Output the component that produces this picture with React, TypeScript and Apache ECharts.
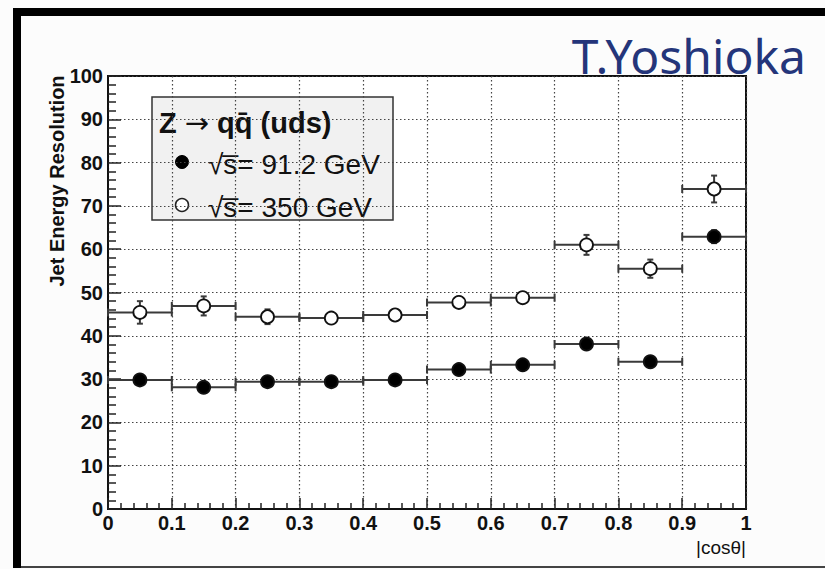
import React, { useEffect, useRef } from "react";
import * as echarts from "echarts";

// |cos(theta)| bins: centres and half width
const binCenters = [0.05, 0.15, 0.25, 0.35, 0.45, 0.55, 0.65, 0.75, 0.85, 0.95];
const binHalfWidth = 0.05;

// Jet energy resolution at sqrt(s) = 91.2 GeV
const res912 = [29.8, 28.1, 29.4, 29.4, 29.8, 32.2, 33.3, 38.1, 34.0, 62.9];
const err912 = [0.6, 0.6, 0.6, 0.6, 0.6, 0.7, 0.7, 0.8, 0.8, 1.5];

// Jet energy resolution at sqrt(s) = 350 GeV
const res350 = [45.4, 46.9, 44.4, 44.1, 44.8, 47.7, 48.8, 61.0, 55.5, 73.9];
const err350 = [2.6, 2.2, 1.7, 1.1, 0.9, 1.3, 1.3, 2.3, 2.1, 3.1];

const xTicks = { min: 0, max: 1, interval: 0.1 };
const yTicks = { min: 0, max: 100, interval: 10 };

const FONT = "'Liberation Sans', Arial, sans-serif";
const BAR_COLOR = "#3a3a3a";

function errorBars(values: number[], errors: number[]) {
  return binCenters.map((x, i) => [x, values[i], errors[i]]);
}

// Horizontal bin-width bar, vertical error bar and the marker on top
function makeRenderer(markerFill: string) {
  return (params: any, api: any) => {
    const x = api.value(0);
    const y = api.value(1);
    const e = api.value(2);
    const left = api.coord([x - binHalfWidth, y]);
    const right = api.coord([x + binHalfWidth, y]);
    const top = api.coord([x, y + e]);
    const bottom = api.coord([x, y - e]);
    const center = api.coord([x, y]);
    const style = { stroke: BAR_COLOR, lineWidth: 2, fill: "none" };
    const cap = 4;
    return {
      type: "group",
      children: [
        { type: "line", shape: { x1: left[0], y1: left[1], x2: right[0], y2: right[1] }, style },
        { type: "line", shape: { x1: left[0], y1: left[1] - cap, x2: left[0], y2: left[1] + cap }, style },
        { type: "line", shape: { x1: right[0], y1: right[1] - cap, x2: right[0], y2: right[1] + cap }, style },
        { type: "line", shape: { x1: top[0], y1: top[1], x2: bottom[0], y2: bottom[1] }, style },
        { type: "line", shape: { x1: top[0] - 3, y1: top[1], x2: top[0] + 3, y2: top[1] }, style },
        { type: "line", shape: { x1: bottom[0] - 3, y1: bottom[1], x2: bottom[0] + 3, y2: bottom[1] }, style },
        {
          type: "circle",
          shape: { cx: center[0], cy: center[1], r: 6.5 },
          style: { fill: markerFill, stroke: "#111", lineWidth: 1.8 },
        },
      ],
    };
  };
}

export default function App() {
  const ref = useRef<HTMLDivElement>(null);

  useEffect(() => {
    if (!ref.current) return;
    const chart = echarts.init(ref.current, undefined, { renderer: "svg" });

    const option: any = {
      animation: false,
      backgroundColor: "#fcfcfc",
      grid: {
        left: 108,
        top: 76,
        right: 79,
        bottom: 60,
        show: true,
        backgroundColor: "#ffffff",
        borderColor: "#111111",
        borderWidth: 2,
      },
      xAxis: {
        type: "value",
        ...xTicks,
        axisLine: { show: true, onZero: false, lineStyle: { color: "#111", width: 2 } },
        axisTick: { show: true, inside: true, length: 11, lineStyle: { color: "#222", width: 1.5 } },
        minorTick: { show: true, splitNumber: 5, length: 6, lineStyle: { color: "#222", width: 1.5 } },
        splitLine: { show: true, lineStyle: { color: "#444", width: 1.2, type: [1.5, 2.5] } },
        axisLabel: {
          color: "#111",
          fontFamily: FONT,
          fontWeight: "bold",
          fontSize: 20,
          margin: 4,
          formatter: (v: number) => (v === 0 ? "0" : v === 1 ? "1" : v.toFixed(1)),
        },
      },
      yAxis: {
        type: "value",
        ...yTicks,
        axisLine: { show: true, onZero: false, lineStyle: { color: "#111", width: 2 } },
        axisTick: { show: true, inside: true, length: 13, lineStyle: { color: "#222", width: 1.5 } },
        minorTick: { show: true, splitNumber: 5, length: 8, lineStyle: { color: "#222", width: 1.5 } },
        splitLine: { show: true, lineStyle: { color: "#444", width: 1.2, type: [1.5, 2.5] } },
        axisLabel: {
          color: "#111",
          fontFamily: FONT,
          fontWeight: "bold",
          fontSize: 20,
          margin: 5,
        },
      },
      series: [
        {
          name: "√s= 91.2 GeV",
          type: "custom",
          renderItem: makeRenderer("#000"),
          data: errorBars(res912, err912),
          z: 3,
        },
        {
          name: "√s= 350 GeV",
          type: "custom",
          renderItem: makeRenderer("#fff"),
          data: errorBars(res350, err350),
          z: 3,
        },
      ],
      graphic: [
        // outer frame
        { type: "rect", shape: { x: 13, y: 8, width: 812, height: 8 }, style: { fill: "#000" }, z: 10 },
        { type: "rect", shape: { x: 13, y: 8, width: 8, height: 560 }, style: { fill: "#000" }, z: 10 },
        { type: "line", shape: { x1: 21, y1: 567, x2: 825, y2: 567 }, style: { stroke: "#444", lineWidth: 2 }, z: 10 },
        // author tag
        {
          type: "text",
          x: 806,
          y: 79,
          style: {
            text: "T.Yoshioka",
            fill: "#24357a",
            font: "48px 'Noto Sans', 'DejaVu Sans', sans-serif",
            textAlign: "right",
            textVerticalAlign: "bottom",
          },
          z: 10,
        },
        // axis titles
        {
          type: "text",
          x: 57,
          y: 181,
          rotation: Math.PI / 2,
          style: {
            text: "Jet Energy Resolution",
            fill: "#111",
            font: `bold 20px ${FONT}`,
            textAlign: "center",
            textVerticalAlign: "middle",
          },
          z: 10,
        },
        {
          type: "text",
          x: 746,
          y: 547,
          style: {
            text: "|cosθ|",
            fill: "#111",
            font: `19px ${FONT}`,
            textAlign: "right",
            textVerticalAlign: "middle",
          },
          z: 10,
        },
        // legend box
        {
          type: "group",
          z: 20,
          children: [
            {
              type: "rect",
              shape: { x: 152, y: 97, width: 241, height: 123 },
              style: { fill: "#f1f1f1", stroke: "#333", lineWidth: 1.5 },
            },
            {
              type: "text",
              x: 159,
              y: 123,
              style: {
                text: "{b|Z }{a|→}{b| qq̄ (uds)}",
                textVerticalAlign: "middle",
                rich: {
                  b: { fill: "#111", font: `bold 29px ${FONT}` },
                  a: { fill: "#111", font: "29px 'DejaVu Sans', sans-serif" },
                },
              },
            },
            { type: "circle", shape: { cx: 182, cy: 162, r: 6.5 }, style: { fill: "#000", stroke: "#000" } },
            {
              type: "text",
              x: 208,
              y: 164,
              style: {
                text: "√s̅= 91.2 GeV",
                fill: "#111",
                font: `28px ${FONT}`,
                textVerticalAlign: "middle",
              },
            },
            { type: "circle", shape: { cx: 182, cy: 205, r: 6.5 }, style: { fill: "#fff", stroke: "#222", lineWidth: 1.5 } },
            {
              type: "text",
              x: 208,
              y: 207,
              style: {
                text: "√s̅= 350 GeV",
                fill: "#111",
                font: `28px ${FONT}`,
                textVerticalAlign: "middle",
              },
            },
          ],
        },
      ],
    };

    chart.setOption(option);
    return () => chart.dispose();
  }, []);

  return (
    <div
      ref={ref}
      style={{ position: "fixed", left: 0, top: 0, width: 825, height: 569 }}
    />
  );
}
